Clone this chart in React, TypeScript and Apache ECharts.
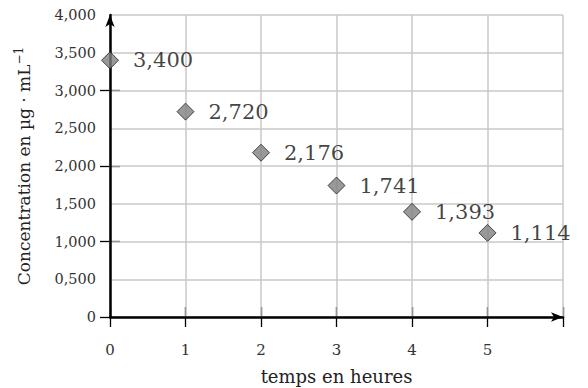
import React, { useEffect, useRef } from "react";
import * as echarts from "echarts";

const hours = [0, 1, 2, 3, 4, 5];
const concentration = [3400, 2720, 2176, 1741, 1393, 1114];
const xTickLabels = ["0", "1", "2", "3", "4", "5"];
const yTickLabels = ["0", "0,500", "1,000", "1,500", "2,000", "2,500", "3,000", "3,500", "4,000"];

const FONT = "DejaVu Serif";

function fmt(v: number): string {
  const s = (v / 1000).toFixed(3);
  return s.replace(".", ",");
}

export default function App() {
  const ref = useRef<HTMLDivElement>(null);
  useEffect(() => {
    document.body.style.margin = "0";
    if (!ref.current) return;
    const chart = echarts.init(ref.current, null, { renderer: "svg" });
    const common = { min: 0, max: 6, interval: 1, type: "value" as const };
    const yCommon = { min: 0, max: 4000, type: "value" as const };
    chart.setOption({
      animation: false,
      textStyle: { fontFamily: FONT },
      grid: { left: 110, right: 25, top: 15, bottom: 71, containLabel: false, outerBoundsMode: "none" },
      xAxis: [
        {
          ...common,
          splitLine: { show: true, lineStyle: { color: "#c8c8c8", width: 1.5 } },
          axisLine: {
            show: true,
            symbol: ["none", "arrow"],
            symbolSize: [7, 12],
            lineStyle: { color: "#000", width: 2.5 },
          },
          axisTick: { show: true, inside: false, length: 10, lineStyle: { color: "#000", width: 1.3 } },
          axisLabel: {
            margin: 25,
            fontFamily: FONT,
            fontSize: 15,
            color: "#333",
            formatter: (v: number) => (v <= 5 ? xTickLabels[v] : ""),
          },
          name: "temps en heures",
          nameLocation: "middle",
          nameGap: 50,
          nameTextStyle: { fontFamily: FONT, fontSize: 18, color: "#222" },
          z: 3,
        },
        {
          ...common,
          position: "bottom",
          splitLine: { show: false },
          axisLine: { show: false },
          axisLabel: { show: false },
          axisTick: { show: true, inside: true, length: 10, lineStyle: { color: "#000", width: 1.3 } },
        },
      ],
      yAxis: [
        {
          ...yCommon,
          interval: 500,
          splitLine: { show: true, lineStyle: { color: "#c8c8c8", width: 1.5 } },
          axisLine: {
            show: true,
            symbol: ["none", "arrow"],
            symbolSize: [7, 12],
            lineStyle: { color: "#000", width: 2.5 },
          },
          axisTick: { show: false },
          axisLabel: {
            margin: 14,
            fontFamily: FONT,
            fontSize: 14.5,
            color: "#333",
            formatter: (v: number) => yTickLabels[Math.round(v / 500)],
          },
          name: "{m|Concentration en µg · mL}{s|−1}",
          nameLocation: "middle",
          nameGap: 75,
          nameTextStyle: {
            fontFamily: FONT,
            fontSize: 17,
            color: "#222",
            rich: {
              m: { fontFamily: FONT, fontSize: 17, color: "#222" },
              s: { fontFamily: FONT, fontSize: 12, color: "#222", padding: [0, 0, 10, 0] },
            },
          },
          z: 3,
        },
        {
          ...yCommon,
          interval: 1000,
          position: "left",
          splitLine: { show: false },
          axisLine: { show: false },
          axisLabel: { show: false },
          axisTick: {
            show: true,
            inside: false,
            length: 10,
            lineStyle: { color: "#000", width: 1.3 },
            customValues: [0, 1000, 2000, 3000],
          },
        },
        {
          ...yCommon,
          interval: 1000,
          position: "left",
          splitLine: { show: false },
          axisLine: { show: false },
          axisLabel: { show: false },
          axisTick: {
            show: true,
            inside: true,
            length: 10,
            lineStyle: { color: "#000", width: 1.3 },
            customValues: [1000, 2000, 3000],
          },
        },
      ],
      series: [
        {
          type: "scatter",
          xAxisIndex: 0,
          yAxisIndex: 0,
          symbol: "diamond",
          symbolSize: [17, 17],
          itemStyle: { color: "#808080", borderColor: "#222", borderWidth: 1 },
          data: hours.map((h, i) => [h, concentration[i]]),
          label: {
            show: true,
            position: "right",
            distance: 14,
            fontFamily: FONT,
            fontSize: 21,
            color: "#111",
            formatter: (p: any) => fmt(p.value[1]),
          },
          z: 5,
        },
      ],
    });
    return () => chart.dispose();
  }, []);
  return <div ref={ref} style={{ width: 588, height: 388 }} />;
}
